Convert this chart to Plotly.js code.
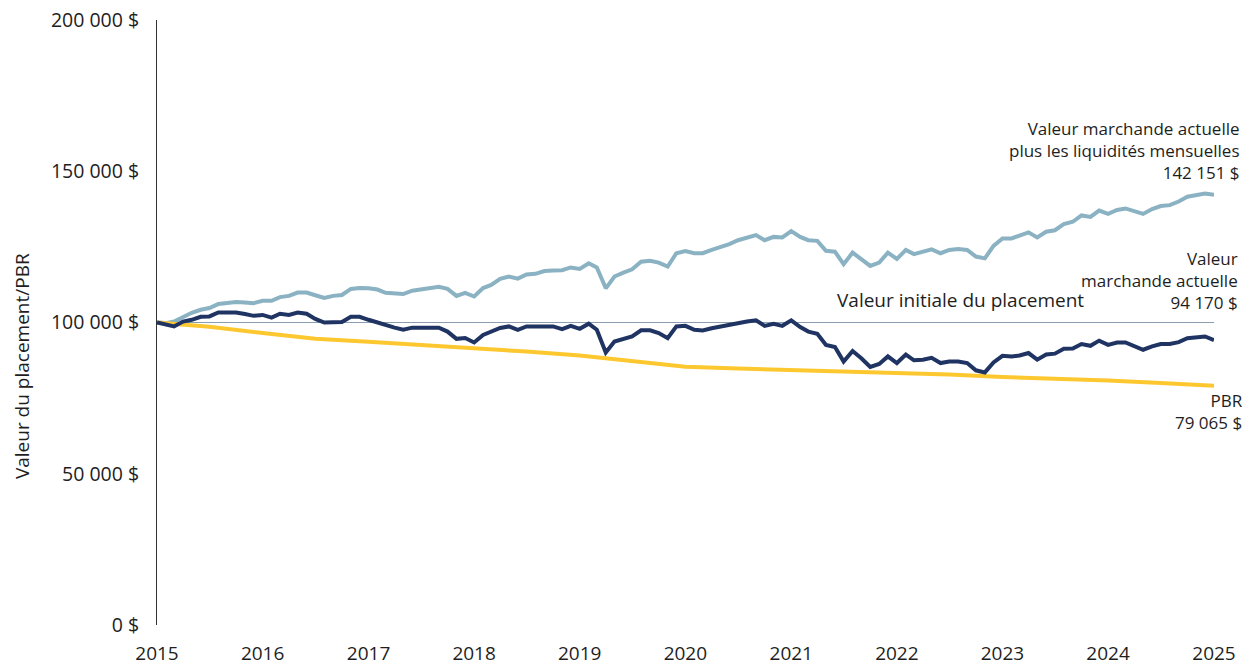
<!DOCTYPE html>
<html>
<head>
<meta charset="utf-8">
<script src="https://cdn.plot.ly/plotly-3.0.1.min.js"></script>
<style>html,body{margin:0;padding:0;background:#fff;}#chart{width:1255px;height:666px;}</style>
</head>
<body>
<div id="chart"></div>
<script>
// Monthly observations, Jan 2015 .. Jan 2025 (121 months)
const startYear = 2015;
const monthCount = 121;

// Valeur marchande actuelle plus les liquidités mensuelles (in $)
const marketPlusCash = [
  100.0, 99.8, 100.3, 101.9, 103.2, 104.2, 104.8, 106.1, 106.5, 106.8, 106.6, 106.4,
  107.2, 107.2, 108.4, 108.8, 109.9, 109.9, 109.0, 108.1, 108.8, 109.1, 111.1, 111.4,
  111.3, 110.9, 109.8, 109.6, 109.4, 110.5, 110.9, 111.3, 111.8, 111.1, 108.8, 109.8,
  108.6, 111.4, 112.4, 114.4, 115.2, 114.5, 115.9, 116.1, 117.0, 117.2, 117.3, 118.2,
  117.7, 119.6, 118.2, 111.3, 115.2, 116.5, 117.6, 120.1, 120.4, 119.8, 118.5, 122.9,
  123.6, 122.9, 122.9, 124.0, 124.8, 125.9, 127.2, 128.1, 128.9, 127.2, 128.3, 128.1,
  130.2, 128.3, 127.2, 127.0, 123.7, 123.4, 119.3, 123.1, 121.0, 118.7, 119.8, 123.1,
  121.0, 124.0, 122.6, 123.4, 124.2, 122.9, 124.0, 124.3, 124.0, 121.8, 121.2, 125.3,
  127.8, 127.8, 128.6, 129.8, 128.1, 130.0, 130.5, 132.5, 133.3, 135.4, 134.9, 137.0,
  135.9, 137.2, 137.7, 136.7, 135.9, 137.5, 138.5, 138.8, 140.0, 141.6, 142.0, 142.6,
  142.2
].map(v => v * 1000);

// Valeur marchande actuelle (in $)
const marketValue = [
  100.0, 99.2, 98.7, 100.3, 100.9, 101.9, 102.0, 103.3, 103.3, 103.3, 102.8, 102.2,
  102.5, 101.6, 102.9, 102.5, 103.3, 102.9, 101.2, 100.0, 100.1, 100.2, 101.9, 101.9,
  100.9, 99.9, 99.0, 98.3, 97.6, 98.3, 98.3, 98.3, 98.3, 97.0, 94.6, 94.9,
  93.4, 95.9, 97.0, 98.2, 98.7, 97.6, 98.7, 98.7, 98.7, 98.7, 97.8, 98.9,
  97.9, 99.6, 97.6, 90.1, 93.7, 94.5, 95.4, 97.4, 97.4, 96.5, 94.8, 98.7,
  98.9, 97.6, 97.4, 98.1, 98.7, 99.2, 100.0, 100.3, 100.7, 98.9, 99.6, 98.9,
  100.7, 98.5, 97.0, 96.3, 92.6, 91.9, 87.1, 90.6, 88.1, 85.3, 86.3, 88.8,
  86.6, 89.4, 87.5, 87.7, 88.3, 86.6, 87.1, 87.1, 86.6, 84.2, 83.5, 86.8,
  89.0, 88.8, 89.1, 89.9, 87.7, 89.4, 89.7, 91.3, 91.4, 92.9, 92.3, 94.0,
  92.6, 93.4, 93.4, 92.1, 91.0, 92.1, 92.9, 92.9, 93.5, 94.8, 95.2, 95.4,
  94.2
].map(v => v * 1000);

// PBR, read at half-year points
const pbrDates = [
  '2015-01-01','2015-07-01','2016-01-01','2016-07-01','2017-01-01','2017-07-01',
  '2018-01-01','2018-07-01','2019-01-01','2019-07-01','2020-01-01','2020-07-01',
  '2021-01-01','2021-07-01','2022-01-01','2022-07-01','2023-01-01','2023-07-01',
  '2024-01-01','2024-07-01','2025-01-01'
];
const pbrValues = [
  100.0, 98.6, 96.5, 94.6, 93.6, 92.6, 91.7, 90.4, 89.1, 87.3, 85.4, 84.8,
  84.3, 83.9, 83.4, 82.8, 82.0, 81.5, 80.8, 80.0, 79.1
].map(v => v * 1000);

const yTickVals = [0, 50000, 100000, 150000, 200000];
const yTickText = ['0 $', '50 000 $', '100 000 $', '150 000 $', '200 000 $'];
const xTickYears = ['2015','2016','2017','2018','2019','2020','2021','2022','2023','2024','2025'];

const initialValue = 100000;
const labelMarketPlusCash = 'Valeur marchande actuelle<br>plus les liquidités mensuelles<br>142 151 $';
const labelMarket = 'Valeur<br>marchande actuelle<br>94 170 $';
const labelPbr = 'PBR<br>79 065 $';
const labelInitial = 'Valeur initiale du placement';
const yTitle = 'Valeur du placement/PBR';

const monthDates = [];
for (let i = 0; i < monthCount; i++) {
  const y = startYear + Math.floor(i / 12);
  const m = (i % 12) + 1;
  monthDates.push(y + '-' + String(m).padStart(2, '0') + '-01');
}

const FONT = 'Open Sans, Lato, sans-serif';
const TXT = '#1e1e1e';

const traces = [
  {x: monthDates, y: marketPlusCash, type: 'scatter', mode: 'lines',
   line: {color: '#8ab2c3', width: 4}, hoverinfo: 'skip', showlegend: false},
  {x: pbrDates, y: pbrValues, type: 'scatter', mode: 'lines',
   line: {color: '#fdc82f', width: 4}, hoverinfo: 'skip', showlegend: false},
  {x: monthDates, y: marketValue, type: 'scatter', mode: 'lines',
   line: {color: '#1f3462', width: 4}, hoverinfo: 'skip', showlegend: false}
];

const layout = {
  width: 1255, height: 666,
  margin: {l: 157, r: 41, t: 20, b: 41},
  paper_bgcolor: '#ffffff', plot_bgcolor: '#ffffff',
  font: {family: FONT, size: 17, color: TXT},
  xaxis: {
    type: 'date', range: ['2015-01-01', '2025-01-01'],
    tickvals: xTickYears.map(y => y + '-01-01'), ticktext: xTickYears,
    showgrid: false, zeroline: false, showline: false, ticks: '',
    tickfont: {family: FONT, size: 19, color: TXT}, ticklabelstandoff: 15
  },
  yaxis: {
    range: [0, 200000], tickvals: yTickVals, ticktext: yTickText,
    showgrid: false, zeroline: false, showline: true, linecolor: '#333333', linewidth: 1,
    ticks: '', tickfont: {family: FONT, size: 19.5, color: TXT}, ticklabelstandoff: 13
  },
  shapes: [
    {type: 'line', xref: 'x', yref: 'y', x0: '2015-01-01', x1: '2025-01-01',
     y0: initialValue, y1: initialValue, line: {color: '#8c9db0', width: 1.2}, layer: 'below'}
  ],
  annotations: [
    {xref: 'paper', yref: 'y', x: -0.1277, y: 85600, xanchor: 'center', yanchor: 'middle',
     textangle: -90, showarrow: false, text: yTitle,
     font: {family: FONT, size: 19, color: TXT}},
    {xref: 'paper', yref: 'y', x: 1.0265, y: 157000, xanchor: 'right', yanchor: 'middle',
     align: 'right', showarrow: false, text: labelMarketPlusCash,
     font: {family: FONT, size: 17, color: TXT}},
    {xref: 'paper', yref: 'y', x: 1.025, y: 114000, xanchor: 'right', yanchor: 'middle',
     align: 'right', showarrow: false, text: labelMarket,
     font: {family: FONT, size: 17, color: TXT}},
    {xref: 'paper', yref: 'y', x: 0.76, y: 107400, xanchor: 'center', yanchor: 'middle',
     showarrow: false, text: labelInitial, font: {family: FONT, size: 19, color: TXT}},
    {xref: 'paper', yref: 'y', x: 1.029, y: 70600, xanchor: 'right', yanchor: 'middle',
     align: 'right', showarrow: false, text: labelPbr,
     font: {family: FONT, size: 17, color: TXT}}
  ]
};

Plotly.newPlot('chart', traces, layout, {displayModeBar: false, staticPlot: true});
</script>
</body>
</html>
